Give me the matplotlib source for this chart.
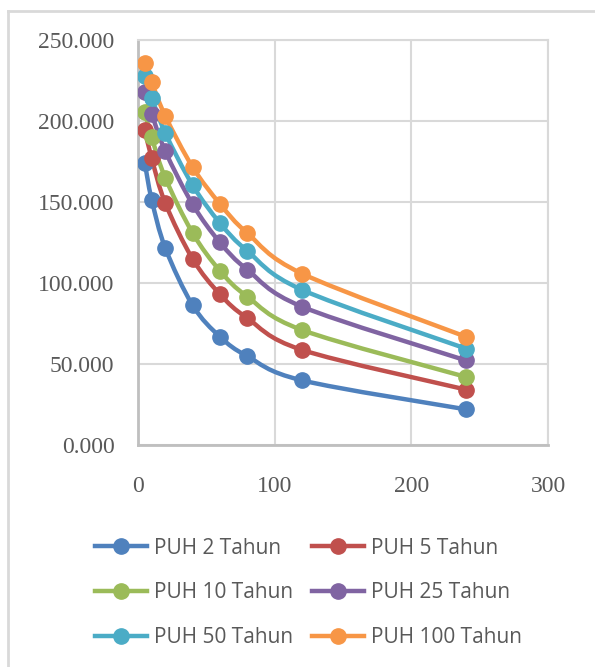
import matplotlib.pyplot as plt
import numpy as np
from matplotlib.path import Path
from matplotlib.patches import PathPatch
from matplotlib.lines import Line2D

# durations (minutes) and intensities per return period
durasi = [5, 10, 20, 40, 60, 80, 120, 240]
puh_2 = [174.0, 151.5, 121.5, 86.2, 66.8, 54.8, 39.9, 22.0]
puh_5 = [194.5, 177.0, 149.2, 114.8, 93.0, 78.3, 58.7, 34.2]
puh_10 = [205.5, 190.0, 164.8, 130.8, 107.5, 91.6, 71.0, 42.0]
puh_25 = [218.0, 204.5, 181.3, 148.5, 125.0, 108.2, 85.4, 52.2]
puh_50 = [227.5, 214.5, 192.5, 160.3, 137.0, 119.8, 95.8, 59.5]
puh_100 = [235.8, 224.0, 203.0, 171.5, 148.8, 130.8, 105.8, 66.8]

labels = ['PUH 2 Tahun', 'PUH 5 Tahun', 'PUH 10 Tahun',
          'PUH 25 Tahun', 'PUH 50 Tahun', 'PUH 100 Tahun']
colors = ['#4f81bd', '#c0504d', '#9bbb59', '#8064a2', '#4bacc6', '#f79646']
series = [puh_2, puh_5, puh_10, puh_25, puh_50, puh_100]


def smooth_path(xs, ys):
    # Excel-like smoothed line: cubic bezier through the data points
    pts = np.column_stack([xs, ys]).astype(float)
    n = len(pts)
    verts = [pts[0]]
    codes = [Path.MOVETO]
    for i in range(n - 1):
        p0 = pts[max(i - 1, 0)]
        p1 = pts[i]
        p2 = pts[i + 1]
        p3 = pts[min(i + 2, n - 1)]
        c1 = p1 + (p2 - p0) / 6.0
        c2 = p2 - (p3 - p1) / 6.0
        verts += [c1, c2, p2]
        codes += [Path.CURVE4] * 3
    return Path(verts, codes)


fig = plt.figure(figsize=(5.95, 6.67), dpi=100)
ax = fig.add_axes([138 / 595, 1 - 445 / 667, 410 / 595, 405 / 667])

for ys, c in zip(series, colors):
    ax.add_patch(PathPatch(smooth_path(durasi, ys), facecolor='none',
                           edgecolor=c, lw=3.2, capstyle='round', zorder=3))
    ax.plot(durasi, ys, 'o', color=c, ms=11, zorder=4)

ax.set_xlim(0, 300)
ax.set_ylim(0, 250)
ax.set_xticks([0, 100, 200, 300])
ax.set_yticks(np.arange(0, 251, 50))
ax.set_yticklabels([f'{v:.3f}' for v in np.arange(0, 251, 50)])
ax.grid(True, color='#d9d9d9', lw=1.5)
ax.set_axisbelow(True)
for s in ['top', 'right']:
    ax.spines[s].set_color('#d9d9d9')
    ax.spines[s].set_linewidth(1.5)
for s in ['left', 'bottom']:
    ax.spines[s].set_color('#bfbfbf')
    ax.spines[s].set_linewidth(2)
ax.tick_params(length=0, labelsize=17, labelcolor='#595959')
ax.tick_params(axis='y', pad=17)
ax.tick_params(axis='x', pad=22)
for t in ax.get_xticklabels() + ax.get_yticklabels():
    t.set_fontfamily('Liberation Serif')

handles = [Line2D([], [], color=c, lw=3.2, marker='o', ms=11) for c in colors]
order = [0, 2, 4, 1, 3, 5]
fig.legend([handles[i] for i in order], [labels[i] for i in order],
           ncol=2, frameon=False, loc='center', bbox_to_anchor=(0.518, 0.111),
           prop={'family': 'Open Sans', 'size': 15}, labelcolor='#595959',
           handlelength=2.5, handletextpad=0.33, columnspacing=0.9,
           labelspacing=1.15)

# chart area border (left and top visible)
fig.add_artist(Line2D([8 / 595, 8 / 595], [0, 1 - 11 / 667],
                      transform=fig.transFigure, color='#d9d9d9', lw=2))
fig.add_artist(Line2D([8 / 595, 1], [1 - 11 / 667, 1 - 11 / 667],
                      transform=fig.transFigure, color='#d9d9d9', lw=2))

fig.savefig('out.png', dpi=100)
